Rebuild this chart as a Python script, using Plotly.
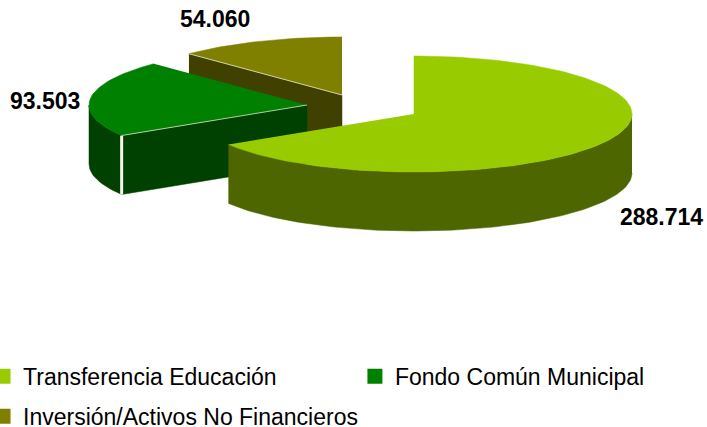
import numpy as np
import plotly.graph_objects as go

categories = ["Transferencia Educación", "Fondo Común Municipal", "Inversión/Activos No Financieros"]
values = [288714, 93503, 54060]
value_labels = ["288.714", "93.503", "54.060"]

top_colors = ["#99CC00", "#008000", "#808000"]
side_colors = ["#4D6600", "#004000", "#404000"]
legend_ids = ["legend", "legend2", "legend3"]

# Projection of the exploded pie: one centre per slice (plot pixels), shared ellipse and depth
CENTERS = [(414, 114), (307, 105), (342, 95)]
RX, RY, DEPTH = 218, 58, 59
LABEL_POS = [(661, 217), (45, 101), (215, 19)]

fractions = np.array(values, dtype=float) / sum(values)
edges = np.concatenate([[0], np.cumsum(fractions) * 360])


def arc(center, a0, a1, dz=0.0):
    n = max(2, int(abs(a1 - a0) / 1.5) + 1)
    t = np.radians(np.linspace(a0, a1, n))
    return center[0] + RX * np.sin(t), center[1] - RY * np.cos(t) + dz


def poly(x, y, color, name):
    return go.Scatter(
        x=list(x), y=list(y), mode="lines", fill="toself", fillcolor=color,
        line=dict(color=color, width=0.5), hoverinfo="skip", showlegend=False, name=name,
    )


def edge_line(x, y, width):
    return go.Scatter(x=x, y=y, mode="lines", line=dict(color="#F4F4E8", width=width),
                      hoverinfo="skip", showlegend=False)


fig = go.Figure()

# painter's order: back slices first
for i in [2, 1, 0]:
    c, a0, a1 = CENTERS[i], edges[i], edges[i + 1]
    apex = (c[0], c[1])

    # outer rim, front half only
    r0, r1 = max(a0, 90), min(a1, 270)
    if r1 > r0:
        xt, yt = arc(c, r0, r1)
        xb, yb = arc(c, r1, r0, DEPTH)
        fig.add_trace(poly(np.r_[xt, xb], np.r_[yt, yb], side_colors[i], categories[i]))

    # cut face at the slice start
    if 180 < a0 < 360:
        xs, ys = arc(c, a0, a0)
        x0, y0 = xs[0], ys[0]
        fig.add_trace(poly(
            [x0, apex[0], apex[0], x0], [y0, apex[1], apex[1] + DEPTH, y0 + DEPTH],
            side_colors[i], categories[i]))
        if i == 1:
            fig.add_trace(edge_line([x0, x0], [y0, y0 + DEPTH], 3))

    # top surface
    xa, ya = arc(c, a0, a1)
    fig.add_trace(poly(np.r_[apex[0], xa], np.r_[apex[1], ya], top_colors[i], categories[i]))
    if 180 < a0 < 360:
        fig.add_trace(edge_line([xa[0], apex[0]], [ya[0], apex[1]], 0.7))

# legend entries
for name, color, lid in zip(categories, top_colors, legend_ids):
    fig.add_trace(go.Scatter(
        x=[None], y=[None], mode="markers", name=name, legend=lid,
        marker=dict(symbol="square", size=15, color=color),
    ))

# value labels
for label, (lx, ly) in zip(value_labels, LABEL_POS):
    fig.add_annotation(
        x=lx, y=ly, text=f"<b>{label}</b>", showarrow=False, xanchor="center", yanchor="middle",
        font=dict(family="Liberation Sans", size=23, color="#000000"),
    )

legend_font = dict(family="Liberation Sans", size=23, color="#000000")
legend_common = dict(orientation="h", xanchor="left", yanchor="top",
                     font=legend_font, bgcolor="rgba(0,0,0,0)")
fig.update_layout(
    width=707, height=427,
    margin=dict(l=0, r=0, t=0, b=0, autoexpand=False),
    paper_bgcolor="#FFFFFF", plot_bgcolor="#FFFFFF",
    xaxis=dict(range=[0, 707], visible=False, fixedrange=True),
    yaxis=dict(range=[427, 0], visible=False, fixedrange=True),
    legend=dict(x=-0.024, y=0.169, **legend_common),
    legend2=dict(x=0.502, y=0.169, **legend_common),
    legend3=dict(x=-0.024, y=0.0753, **legend_common),
)

fig.write_html("out.html", config={"displayModeBar": False},
               post_script="document.body.style.margin='0';")
